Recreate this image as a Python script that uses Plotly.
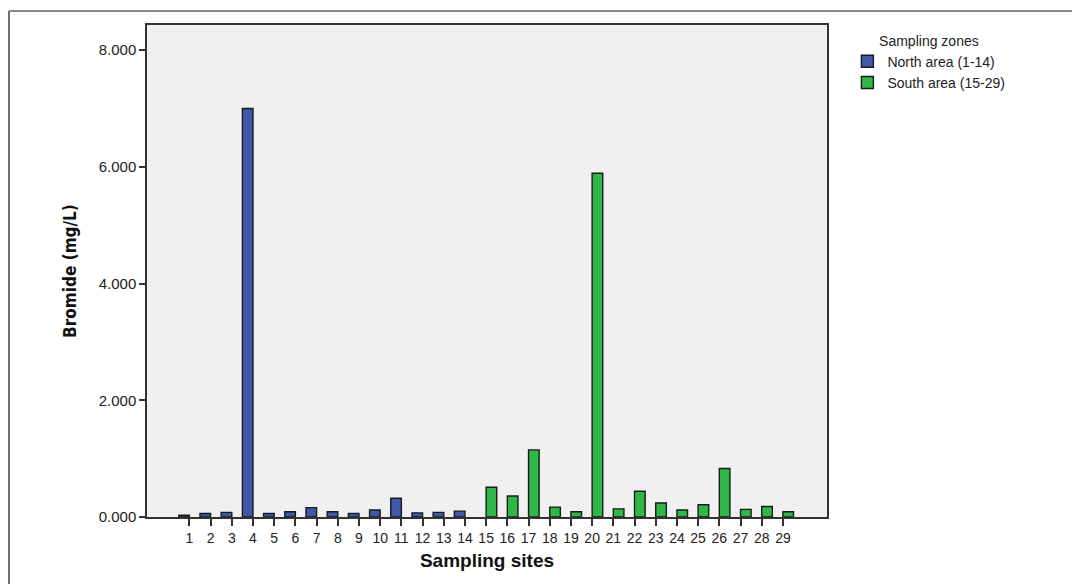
import plotly.graph_objects as go

sites = [str(i) for i in range(1, 30)]
north_sites = sites[:14]
south_sites = sites[14:]
north_values = [0.03, 0.06, 0.08, 7.00, 0.06, 0.09, 0.16, 0.09, 0.06, 0.12, 0.32, 0.07, 0.08, 0.10]
south_values = [0.51, 0.36, 1.15, 0.17, 0.09, 5.89, 0.14, 0.44, 0.24, 0.12, 0.21, 0.83, 0.13, 0.18, 0.09]
y_ticks = [0, 2, 4, 6, 8]
y_tick_labels = ["0.000", "2.000", "4.000", "6.000", "8.000"]

BLUE = "#3E58AC"
GREEN = "#2EB848"
FONT = "Liberation Sans, Arial, sans-serif"

fig = go.Figure()
fig.add_trace(go.Bar(
    x=north_sites, y=north_values, name="North area (1-14)",
    marker=dict(color=BLUE, line=dict(color="#1a1a1a", width=1.4)),
    width=0.5, offset=-0.5,
))
fig.add_trace(go.Bar(
    x=south_sites, y=south_values, name="South area (15-29)",
    marker=dict(color=GREEN, line=dict(color="#1a1a1a", width=1.4)),
    width=0.5, offset=0.0,
))

# page body has an 8px margin; compensate so the plot box lands at 147..827 x 25..517
fig.update_layout(
    width=1080, height=584,
    margin=dict(l=139, r=261, t=17, b=75),
    paper_bgcolor="white",
    plot_bgcolor="#F0F0F0",
    barmode="overlay",
    font=dict(family=FONT, size=13, color="#222"),
    legend=dict(
        title=dict(text="Sampling zones", side="top center", font=dict(size=14, color="#222")),
        x=1.03, y=0.995, xanchor="left", yanchor="top",
        font=dict(size=14, color="#222"),
        bgcolor="rgba(0,0,0,0)",
        itemwidth=30, tracegroupgap=0,
    ),
    showlegend=True,
)

fig.update_xaxes(
    type="category", categoryorder="array", categoryarray=sites,
    range=[-2.0, 30.08],
    showline=True, linecolor="#333", linewidth=1.5, mirror=True,
    ticks="outside", ticklen=7, tickcolor="#333", tickwidth=1.5,
    showgrid=False, zeroline=False,
    tickfont=dict(size=14, color="#222"),
    title=dict(text="<b>Sampling sites</b>", font=dict(size=19, color="#111"), standoff=9),
)
fig.update_yaxes(
    range=[0, 8.43],
    tickvals=y_ticks, ticktext=y_tick_labels,
    showline=True, linecolor="#333", linewidth=1.5, mirror=True,
    ticks="outside", ticklen=6, tickcolor="#333", tickwidth=1.5,
    showgrid=False, zeroline=False,
    tickfont=dict(size=15, color="#222"),
    title=dict(text="<b>Bromide (mg/L)</b>",
               font=dict(family="DejaVu Sans Condensed, Liberation Sans Narrow, Arial Narrow, sans-serif",
                         size=17, color="#111"),
               standoff=18),
)

# outer frame lines (top and left) of the original figure
fig.add_shape(type="line", xref="paper", yref="paper",
              x0=(9 - 147) / 680, x1=(1080 - 147) / 680, y0=(517 - 11) / 492, y1=(517 - 11) / 492,
              line=dict(color="#666", width=1.5))
fig.add_shape(type="line", xref="paper", yref="paper",
              x0=(9 - 147) / 680, x1=(9 - 147) / 680, y0=(517 - 11) / 492, y1=(517 - 584) / 492,
              line=dict(color="#444", width=1.5))

fig.write_html("out.html")
